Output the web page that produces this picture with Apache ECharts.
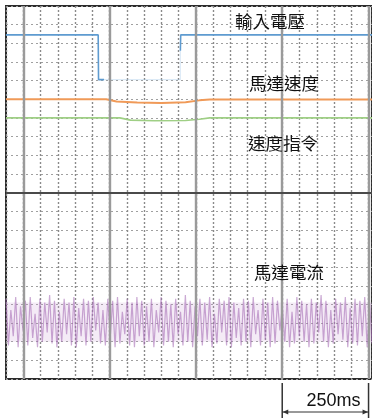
<!DOCTYPE html>
<html>
<head>
<meta charset="utf-8">
<script src="https://cdn.jsdelivr.net/npm/echarts@6/dist/echarts.min.js"></script>
<style>
  html, body { margin: 0; padding: 0; background: #fff; }
  #chart { width: 372px; height: 418px; }
</style>
</head>
<body>
<div id="chart"></div>
<script>
// Time base: ms across the screen; vertical unit: one grid row.
const timeMax = 1060;
const timeDiv = 50;            // minor division
const majorTimes = [50, 300, 550, 800, 1050];
const scaleBarFrom = 800;
const scaleBarTo = 1050;
const scaleBarText = '250ms';

// 輸入電壓 (input voltage), [ms, rows]
const inputVoltageA = [[0, 18.45], [267, 18.45], [268, 16.05], [284, 16.05]];
const inputVoltageLow = [[284, 16.05], [505, 16.05], [505, 17.6]];
const inputVoltageB = [[505, 17.6], [506, 18.45], [1060, 18.45]];

// 馬達速度 (motor speed)
const motorSpeed = [[0, 15.0], [290, 15.0], [320, 14.88], [380, 14.82], [450, 14.8],
  [520, 14.84], [560, 14.94], [590, 14.99], [1060, 14.98]];

// 速度指令 (speed command)
const speedCommand = [[0, 14.0], [330, 14.0], [360, 13.88], [430, 13.85], [520, 13.86],
  [560, 13.93], [590, 14.0], [1060, 14.0]];

// 馬達電流 (motor current), sampled evenly across the sweep
const motorCurrent = [
  4.3,1.8,3.7,2.3,4.4,1.7,3.9,2.6,4.2,1.8,4.4,2.2,3.5,1.7,4.3,2.0,4.1,2.5,4.5,1.9,
  4.2,1.7,3.6,2.0,4.3,2.4,4.1,1.8,4.4,1.7,3.8,2.3,4.3,1.8,4.2,2.0,4.4,2.6,4.1,1.9,
  3.7,1.8,4.3,2.2,4.2,1.7,4.4,1.9,3.6,2.4,4.3,1.8,4.1,1.7,4.4,2.3,4.2,1.8,3.9,2.0,
  4.3,1.7,3.7,2.5,4.4,1.8,4.2,2.0,4.0,1.7,4.3,2.4,3.6,1.8,4.5,2.0,4.2,1.7,3.9,2.3,
  4.3,1.8,4.1,2.1,4.4,1.7,3.5,1.9,4.3,2.5,4.2,1.8,4.4,1.7,4.1,2.2,3.8,1.8,4.3,2.0,
  4.2,1.7,4.4,2.4,3.7,1.8,4.3,2.1,4.1,1.7,4.4,1.9,4.2,2.6,3.9,2.0,4.3,1.7,3.6,1.9,
  4.4,2.3,4.2,2.0,4.0,1.7,4.3,1.9,4.1,2.5,4.5,2.0,4.2,1.7,3.7,1.9,4.3,2.4,4.1,2.1,
  4.4,1.7,3.8,1.9,4.3,1.8,4.2,2.3,4.4,1.7,4.1,1.9];
const currentHazeLow = 2.0;
const currentHazeHigh = 4.1;

const traceLabels = [
  { text: '輸入電壓', x: 270, y: 21 },
  { text: '馬達速度', x: 284, y: 83 },
  { text: '速度指令', x: 283, y: 143 },
  { text: '馬達電流', x: 289, y: 272 }
];

const chart = echarts.init(document.getElementById('chart'), null, { renderer: 'canvas' });

const currentStep = timeMax / (motorCurrent.length - 1);
const currentData = motorCurrent.map((v, i) => [i * currentStep, v]);

function trace(data, color, width, opacity, z) {
  return {
    type: 'line', data: data, symbol: 'none', silent: true, z: z || 3,
    lineStyle: { color: color, width: width, opacity: opacity == null ? 1 : opacity },
    animation: false
  };
}

const currentSeries = trace(currentData, 'rgba(160,100,176,0.55)', 1.2, 1, 3);
currentSeries.markArea = {
  silent: true, animation: false,
  itemStyle: { color: 'rgba(205,165,215,0.22)' },
  data: [[{ xAxis: 0, yAxis: currentHazeLow }, { xAxis: timeMax, yAxis: currentHazeHigh }]]
};

chart.setOption({
  backgroundColor: '#ffffff',
  animation: false,
  grid: {
    left: 6, top: 6, width: timeMax * 0.348, height: 373,
    show: true, borderColor: '#2b2b2b', borderWidth: 2, backgroundColor: '#ffffff'
  },
  xAxis: {
    type: 'value', min: 0, max: timeMax, interval: timeDiv,
    axisLabel: { show: false }, axisTick: { show: false }, axisLine: { show: false },
    splitLine: { show: true, lineStyle: { color: '#8a8a8a', width: 1.4, type: [2, 2] } }
  },
  yAxis: {
    type: 'value', min: 0, max: 20, interval: 1,
    axisLabel: { show: false }, axisTick: { show: false }, axisLine: { show: false },
    splitLine: { show: true, lineStyle: { color: '#a0a0a0', width: 1, type: [2, 3] } }
  },
  series: [
    {
      type: 'line', data: [], silent: true, z: 2,
      markLine: {
        silent: true, symbol: 'none', animation: false,
        label: { show: false },
        data: majorTimes.map(t => ({ xAxis: t, lineStyle: { color: '#9a9a9a', width: 2.4, type: 'solid' } }))
          .concat([{ yAxis: 10, lineStyle: { color: '#4a4a4a', width: 2, type: 'solid' } }])
      }
    },
    currentSeries,
    trace(speedCommand, '#9fcf85', 1.6),
    trace(motorSpeed, '#f09a58', 2),
    trace(inputVoltageLow, '#9cc4e6', 1.2, 0.35),
    trace(inputVoltageA, '#5e9bd0', 1.6),
    trace(inputVoltageB, '#5e9bd0', 1.6)
  ]
});

// Trace names and the time scale bar below the screen
const g = [];
traceLabels.forEach(l => g.push({
  type: 'text', x: l.x, y: l.y, z: 10,
  style: { text: l.text, fill: '#111', font: '17.5px "Noto Sans CJK TC", "Noto Sans CJK SC", sans-serif',
    textAlign: 'center', textVerticalAlign: 'middle' }
}));

const xa = chart.convertToPixel({ gridIndex: 0 }, [scaleBarFrom, 0])[0];
const xb = chart.convertToPixel({ gridIndex: 0 }, [scaleBarTo, 0])[0];
const barTop = 383, barBottom = 418, arrowY = 412;
const ink = '#333';
g.push({ type: 'line', shape: { x1: xa, y1: barTop, x2: xa, y2: barBottom }, style: { stroke: ink, lineWidth: 1.5 } });
g.push({ type: 'line', shape: { x1: xb, y1: barTop, x2: xb, y2: barBottom }, style: { stroke: ink, lineWidth: 1.5 } });
g.push({ type: 'line', shape: { x1: xa, y1: arrowY, x2: xb, y2: arrowY }, style: { stroke: ink, lineWidth: 1 } });
g.push({ type: 'polygon', shape: { points: [[xa + 0.5, arrowY], [xa + 6, arrowY - 2.5], [xa + 6, arrowY + 2.5]] }, style: { fill: ink } });
g.push({ type: 'polygon', shape: { points: [[xb - 0.5, arrowY], [xb - 6, arrowY - 2.5], [xb - 6, arrowY + 2.5]] }, style: { fill: ink } });
g.push({
  type: 'text', x: xb - 8, y: 401, z: 10,
  style: { text: scaleBarText, fill: '#111', font: '18px "Liberation Sans", Arial, sans-serif',
    textAlign: 'right', textVerticalAlign: 'middle' }
});

chart.setOption({ graphic: { elements: g } });
</script>
</body>
</html>
